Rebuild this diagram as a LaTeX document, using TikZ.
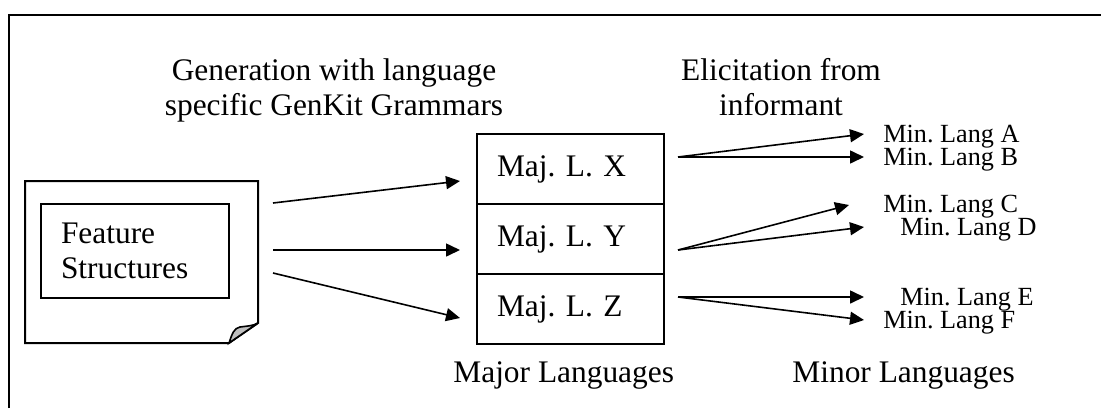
\documentclass[tikz,border=0pt]{standalone}
\usepackage{fontspec}
\setmainfont{Liberation Serif}
\usetikzlibrary{arrows.meta}
\frenchspacing

\tikzset{
  mainfont/.style={font=\fontsize{15.7}{17.5}\selectfont},
  smallfont/.style={font=\fontsize{13.1}{14}\selectfont},
  outline/.style={line width=1pt, draw=black},
  langbox/.style={outline, minimum width=93.5pt, minimum height=35pt,
    text width=73.5pt, inner xsep=10pt, inner ysep=0pt, align=left,
    anchor=north west, mainfont},
  flow/.style={line width=0.8pt, -{Triangle[length=7pt,width=6.5pt]}},
  label/.style={mainfont, inner sep=0pt},
  minlabel/.style={smallfont, inner sep=0pt, anchor=base west},
}

\begin{document}
\begin{tikzpicture}[x=0.5pt, y=-0.5pt]
  \useasboundingbox (0,0) rectangle (1101,408);

  % surrounding frame (open to the right and below)
  \draw[outline] (9,408) -- (9,15) -- (1101,15);

  % page with a curled lower right corner
  \draw[outline, fill=white] (25,181) -- (258,181) -- (258,323) -- (229,343) -- (25,343) -- cycle;
  \draw[line width=0.8pt, fill=black!25]
    (229,343) .. controls (232,334) and (234,328) .. (240,327)
              .. controls (247,326) and (253,326) .. (258,323) -- cycle;
  \coordinate (docR1) at (273,203);
  \coordinate (docR2) at (273,250);
  \coordinate (docR3) at (273,273);

  \node[outline, anchor=north west, minimum width=94pt, minimum height=47pt,
        text width=74pt, inner xsep=10pt, align=left, mainfont]
    (fs) at (40,203) {Feature\\Structures};

  % major languages
  \node[langbox] (majX) at (476,133) {Maj. L. X};
  \node[langbox] (majY) at (476,203) {Maj. L. Y};
  \node[langbox] (majZ) at (476,273) {Maj. L. Z};

  \coordinate (inX) at (460,181);
  \coordinate (inY) at (460,250);
  \coordinate (inZ) at (460,318);
  \draw[flow] (docR1) -- (inX);
  \draw[flow] (docR2) -- (inY);
  \draw[flow] (docR3) -- (inZ);

  % minor languages
  \coordinate (outX) at (678,157);
  \coordinate (outY) at (678,250);
  \coordinate (outZ) at (678,297);
  \coordinate (tA) at (864,134);
  \coordinate (tB) at (864,157);
  \coordinate (tC) at (849,205);
  \coordinate (tD) at (864,227);
  \coordinate (tE) at (864,297);
  \coordinate (tF) at (864,320);
  \draw[flow] (outX) -- (tA);
  \draw[flow] (outX) -- (tB);
  \draw[flow] (outY) -- (tC);
  \draw[flow] (outY) -- (tD);
  \draw[flow] (outZ) -- (tE);
  \draw[flow] (outZ) -- (tF);

  \node[minlabel] (minA) at (883,142) {Min. Lang A};
  \node[minlabel] (minB) at (883,165) {Min. Lang B};
  \node[minlabel] (minC) at (883,212) {Min. Lang C};
  \node[minlabel] (minD) at (900,235) {Min. Lang D};
  \node[minlabel] (minE) at (900,305) {Min. Lang E};
  \node[minlabel] (minF) at (883,328) {Min. Lang F};

  % headings
  \node[label, align=center, anchor=north] (gen) at (334,58)
    {Generation with language\\specific GenKit Grammars};
  \node[label, align=center, anchor=north] (elic) at (781,58)
    {Elicitation from\\informant};
  \node[label, anchor=base west] (majlab) at (453,382) {Major Languages};
  \node[label, anchor=base west] (minlab) at (792,382) {Minor Languages};
\end{tikzpicture}
\end{document}
